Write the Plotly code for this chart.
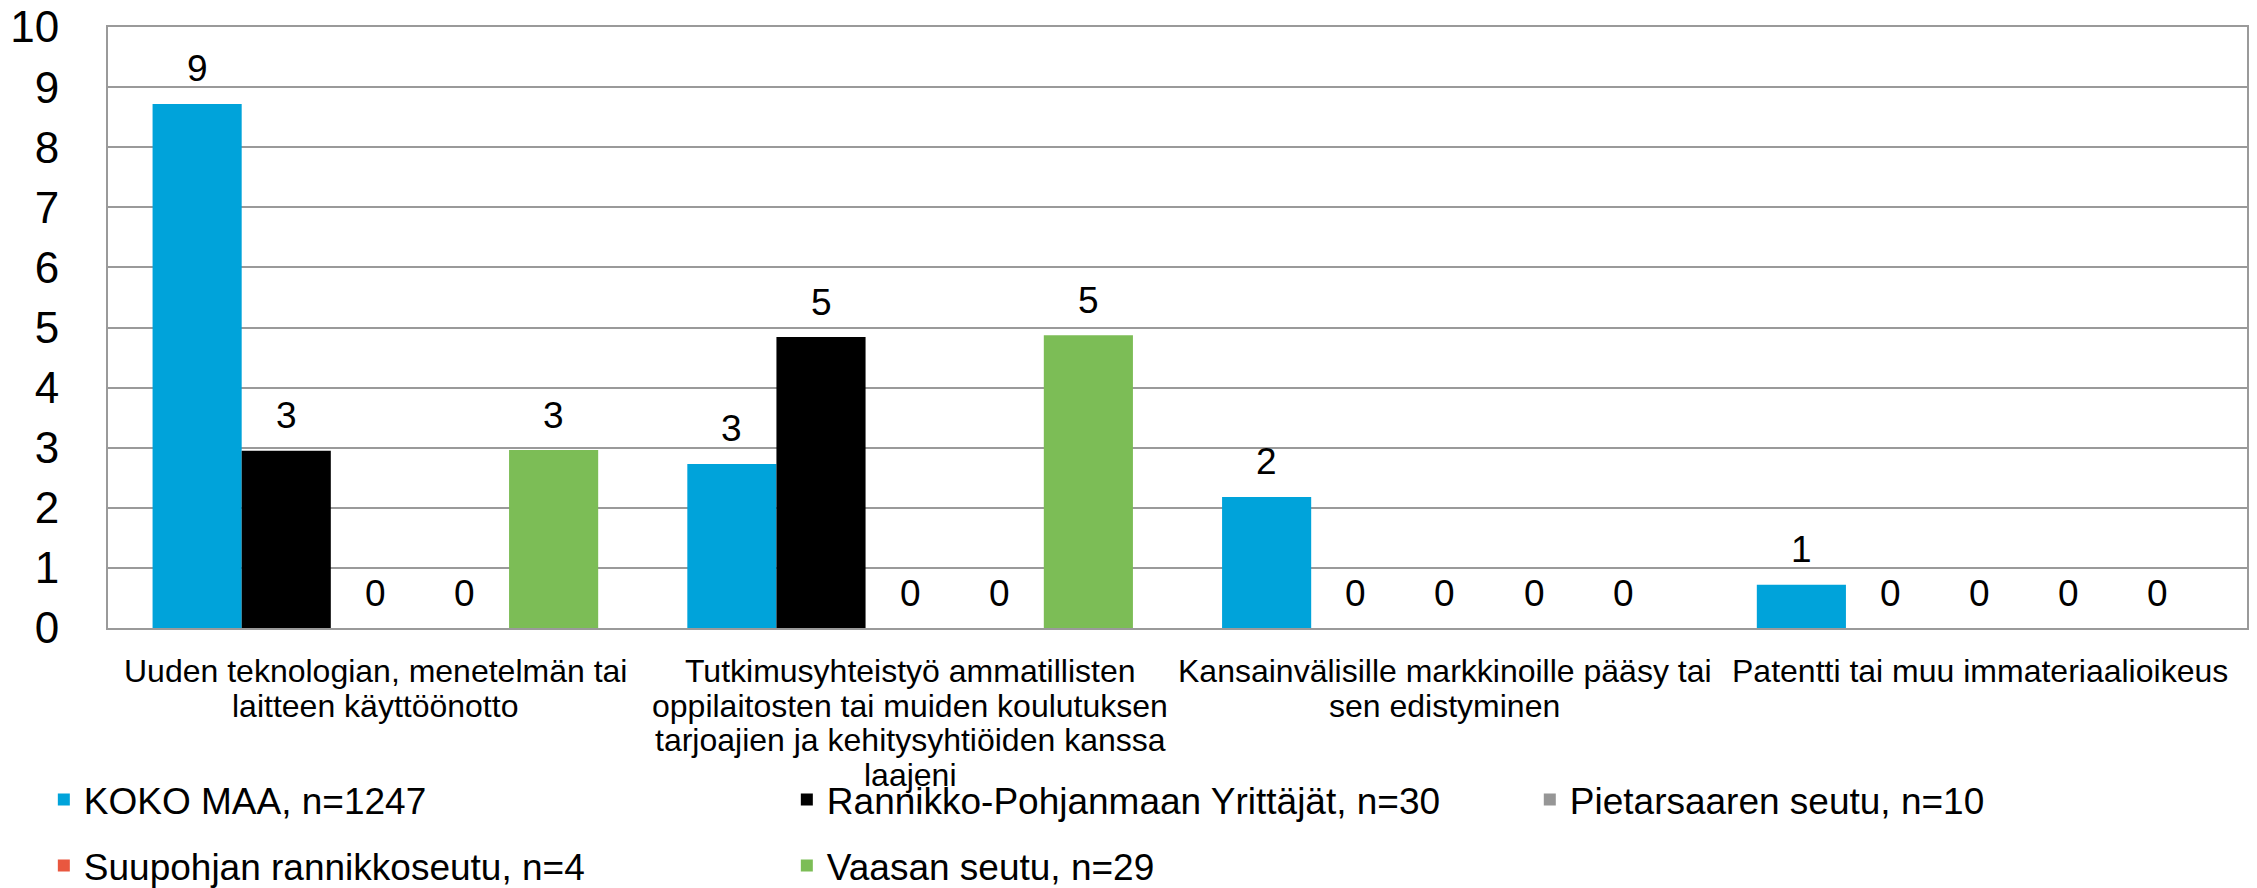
import plotly.graph_objects as go

# Category labels, one list entry per line
categories = [
    "Uuden teknologian, menetelmän tai laitteen käyttöönotto",
    "Tutkimusyhteistyö ammatillisten oppilaitosten tai muiden koulutuksen tarjoajien ja kehitysyhtiöiden kanssa laajeni",
    "Kansainvälisille markkinoille pääsy tai sen edistyminen",
    "Patentti tai muu immateriaalioikeus",
]
category_lines = [
    ["Uuden teknologian, menetelmän tai", "laitteen käyttöönotto"],
    ["Tutkimusyhteistyö ammatillisten", "oppilaitosten tai muiden koulutuksen",
     "tarjoajien ja kehitysyhtiöiden kanssa", "laajeni"],
    ["Kansainvälisille markkinoille pääsy tai", "sen edistyminen"],
    ["Patentti tai muu immateriaalioikeus"],
]

series_names = [
    "KOKO MAA, n=1247",
    "Rannikko-Pohjanmaan Yrittäjät, n=30",
    "Pietarsaaren seutu, n=10",
    "Suupohjan rannikkoseutu, n=4",
    "Vaasan seutu, n=29",
]
koko_maa = [8.72, 2.73, 2.18, 0.72]
rannikko_pohjanmaa = [2.95, 4.84, 0, 0]
pietarsaari = [0, 0, 0, 0]
suupohja = [0, 0, 0, 0]
vaasa = [2.96, 4.87, 0, 0]
series_values = [koko_maa, rannikko_pohjanmaa, pietarsaari, suupohja, vaasa]

colors = ["#00A3DA", "#000000", "#969696", "#E9573F", "#7CBD56"]
# legend grid: row 1 = legend (cols 1-2) + legend3 (col 3), row 2 = legend2
legend_ids = ["legend", "legend", "legend3", "legend2", "legend2"]

y_ticks = list(range(0, 11))

FONT = "Arial, Liberation Sans, sans-serif"
GRID = "#9A9A9A"
BARGAP = 0.1667

fig = go.Figure()
for name, vals, col, lg in zip(series_names, series_values, colors, legend_ids):
    fig.add_trace(go.Bar(
        x=categories,
        y=vals,
        name=name,
        marker=dict(color=col, line=dict(width=0)),
        legend=lg,
    ))

# Value labels above each bar of the grouped layout (rounded to whole numbers)
n_series = len(series_values)
bar_w = (1 - BARGAP) / n_series
for i, vals in enumerate(series_values):
    offset = (i - (n_series - 1) / 2) * bar_w
    for k, v in enumerate(vals):
        fig.add_annotation(
            x=k + offset, y=v, xref="x", yref="y",
            text=f"{v:.0f}", showarrow=False,
            xanchor="center", yanchor="middle", yshift=35,
            font=dict(size=37, color="black", family=FONT),
        )

# Category labels under each group, one line at a time
for cat, lines in zip(categories, category_lines):
    for j, line in enumerate(lines):
        fig.add_annotation(
            x=cat, y=0, xref="x", yref="y",
            text=line, showarrow=False,
            yanchor="middle", xanchor="center",
            yshift=-(43 + 34.5 * j),
            font=dict(size=32, color="black", family=FONT),
        )

legend_common = dict(
    orientation="h",
    xanchor="left",
    yanchor="middle",
    entrywidth=698,
    font=dict(size=37, color="black", family=FONT),
    bgcolor="rgba(0,0,0,0)",
)

fig.update_layout(
    width=2257,
    height=888,
    margin=dict(l=108, r=10, t=27, b=260, autoexpand=False),
    paper_bgcolor="white",
    plot_bgcolor="white",
    font=dict(family=FONT, color="black"),
    barmode="group",
    bargap=BARGAP,
    bargroupgap=0,
    showlegend=True,
    legend=dict(x=-0.03, y=-0.286, **legend_common),
    legend3=dict(x=0.6647, y=-0.286, **legend_common),
    legend2=dict(x=-0.03, y=-0.396, **legend_common),
    xaxis=dict(
        showticklabels=False,
        showline=True, linecolor=GRID, linewidth=2, mirror=True,
        showgrid=False, ticks="",
    ),
    yaxis=dict(
        range=[0, 10],
        tickvals=y_ticks,
        ticktext=[str(v) for v in y_ticks],
        showgrid=True, gridcolor=GRID, gridwidth=2,
        showline=True, linecolor=GRID, linewidth=2, mirror=True,
        zeroline=False,
        ticks="",
        ticklabelstandoff=38,
        tickfont=dict(size=44, color="black", family=FONT),
    ),
)

fig.write_html("out.html")
